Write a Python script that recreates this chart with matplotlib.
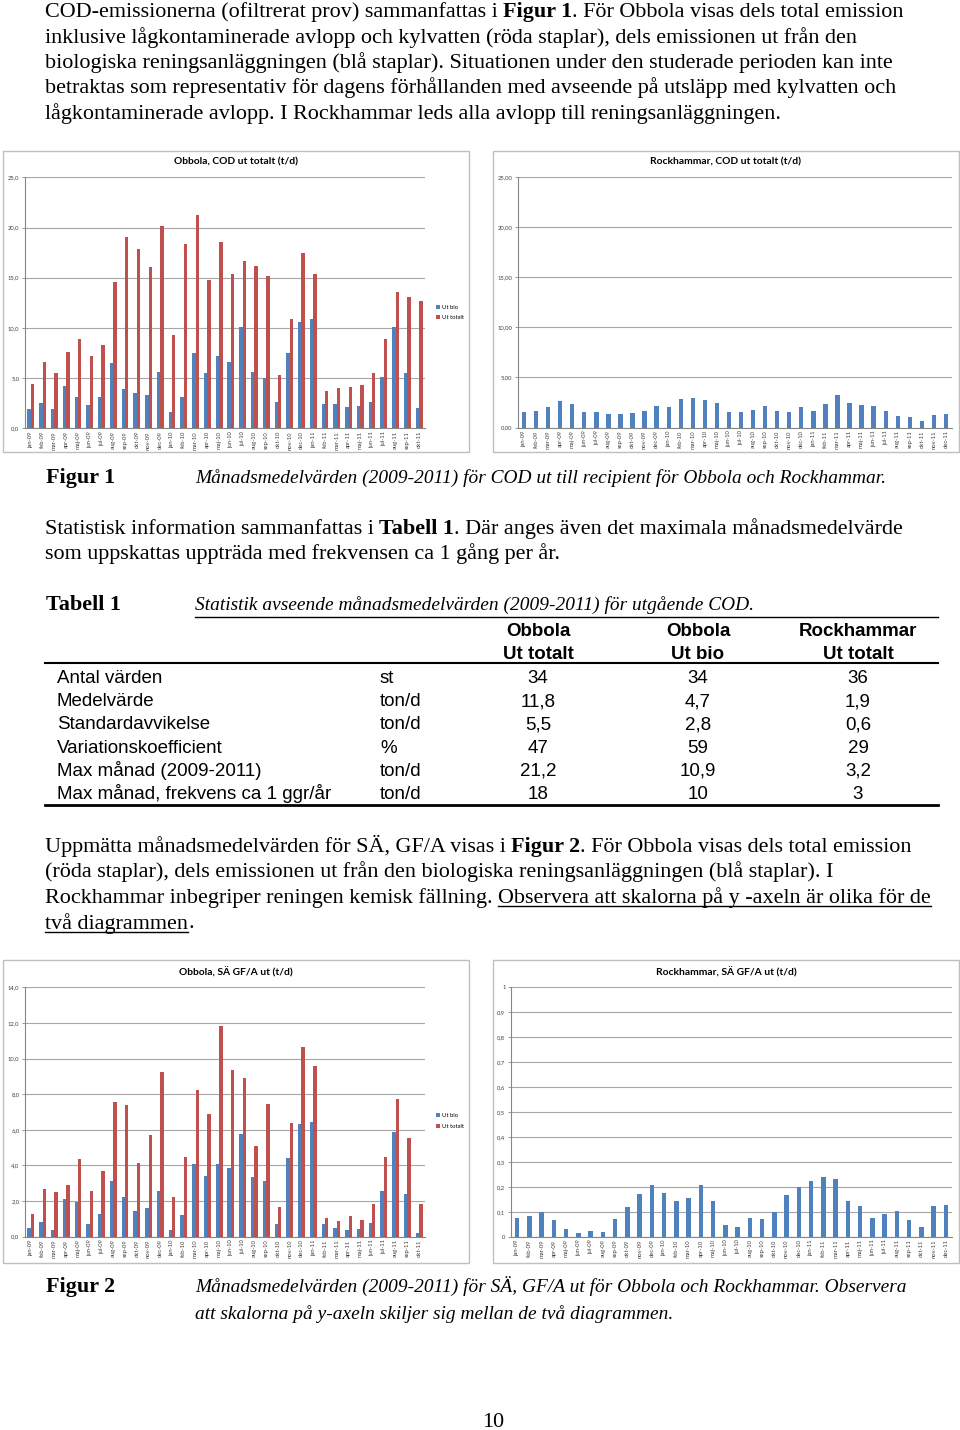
import matplotlib
matplotlib.use('Agg')
import matplotlib.pyplot as plt
from matplotlib.lines import Line2D
from matplotlib.patches import Rectangle, Patch
from matplotlib import font_manager

# ---------------- DATA ----------------
months_obbola = ['jan-09','feb-09','mar-09','apr-09','maj-09','jun-09','jul-09','aug-09','sep-09','okt-09','nov-09','dec-09',
                 'jan-10','feb-10','mar-10','apr-10','maj-10','jun-10','jul-10','aug-10','sep-10','okt-10','nov-10','dec-10',
                 'jan-11','feb-11','mar-11','apr-11','maj-11','jun-11','jul-11','aug-11','sep-11','okt-11']
months_rock = months_obbola + ['nov-11', 'dec-11']

obbola_cod_bio = [1.9, 2.5, 1.9, 4.25, 3.15, 2.3, 3.15, 6.5, 3.9, 3.5, 3.3, 5.6,
                  1.6, 3.1, 7.5, 5.5, 7.2, 6.6, 10.1, 5.6, 5.0, 2.6, 7.5, 10.6,
                  10.9, 2.4, 2.4, 2.1, 2.2, 2.6, 5.1, 10.1, 5.5, 2.0]
obbola_cod_tot = [4.4, 6.6, 5.5, 7.6, 8.9, 7.2, 8.3, 14.6, 19.1, 17.9, 16.1, 20.1,
                  9.3, 18.4, 21.2, 14.8, 18.6, 15.4, 16.7, 16.2, 15.2, 5.35, 10.9, 17.5,
                  15.4, 3.7, 4.0, 4.1, 4.3, 5.5, 8.9, 13.6, 13.1, 12.7]
rock_cod = [1.55, 1.6, 2.05, 2.65, 2.35, 1.5, 1.55, 1.35, 1.35, 1.45, 1.65, 2.15,
            2.0, 2.85, 2.9, 2.7, 2.4, 1.55, 1.55, 1.7, 2.15, 1.65, 1.5, 2.0,
            1.6, 2.35, 3.2, 2.4, 2.25, 2.15, 1.65, 1.15, 1.0, 0.6, 1.25, 1.35]
obbola_sa_bio = [0.49, 0.8, 0.36, 2.1, 1.92, 0.74, 1.3, 3.1, 2.25, 1.43, 1.62, 2.58,
                 0.4, 1.2, 4.1, 3.4, 4.1, 3.87, 5.78, 3.35, 3.1, 0.71, 4.4, 6.34,
                 6.44, 0.69, 0.5, 0.36, 0.41, 0.79, 2.58, 5.86, 2.4, 0.2]
obbola_sa_tot = [1.28, 2.7, 2.5, 2.9, 4.36, 2.57, 3.7, 7.54, 7.39, 4.15, 5.7, 9.26,
                 2.25, 4.5, 8.23, 6.9, 11.8, 9.36, 8.9, 5.07, 7.45, 1.65, 6.36, 10.67,
                 9.58, 1.05, 0.9, 1.18, 0.94, 1.82, 4.47, 7.75, 5.52, 1.83]
rock_sa = [0.074, 0.082, 0.10, 0.065, 0.03, 0.015, 0.021, 0.02, 0.072, 0.119, 0.17, 0.206,
           0.176, 0.144, 0.155, 0.206, 0.142, 0.045, 0.039, 0.074, 0.07, 0.10, 0.167, 0.20,
           0.223, 0.239, 0.23, 0.143, 0.123, 0.074, 0.092, 0.104, 0.065, 0.037, 0.124, 0.127]

series_names = ['Ut bio', 'Ut totalt']

table_header1 = ['Obbola', 'Obbola', 'Rockhammar']
table_header2 = ['Ut totalt', 'Ut bio', 'Ut totalt']
table_rows = ['Antal värden', 'Medelvärde', 'Standardavvikelse', 'Variationskoefficient',
              'Max månad (2009-2011)', 'Max månad, frekvens ca 1 ggr/år']
table_units = ['st', 'ton/d', 'ton/d', '%', 'ton/d', 'ton/d']
table_obbola_tot = ['34', '11,8', '5,5', '47', '21,2', '18']
table_obbola_bio = ['34', '4,7', '2,8', '59', '10,9', '10']
table_rock_tot = ['36', '1,9', '0,6', '29', '3,2', '3']

# ---------------- SETUP ----------------
W, H = 960, 1430
fig = plt.figure(figsize=(9.6, 14.3), dpi=100)
fig.patch.set_facecolor('white')
renderer = fig.canvas.get_renderer()

avail = {f.name for f in font_manager.fontManager.ttflist}
SERIF = 'Liberation Serif' if 'Liberation Serif' in avail else 'DejaVu Serif'
SANS = 'Liberation Sans' if 'Liberation Sans' in avail else 'DejaVu Sans'
NARROW = 'Liberation Sans Narrow' if 'Liberation Sans Narrow' in avail else SANS
CHART = 'Lato' if 'Lato' in avail else SANS

BLUE = '#4F81BD'
RED = '#C0504D'


def fx(x):
    return x / W


def fy(y):
    return 1 - y / H


def text_width(txt, size, family, **kw):
    t = fig.text(0, 0, txt, fontsize=size, family=family, **kw)
    w = t.get_window_extent(renderer).width
    t.remove()
    return w


def space_width(size, family, **kw):
    return text_width('a a', size, family, **kw) - text_width('aa', size, family, **kw)


def rich(x, y, segs, size, family=SERIF):
    cur = x
    for txt, kw in segs:
        kw = dict(kw)
        ul = kw.pop('underline', False)
        core = txt.strip(' ')
        lead = len(txt) - len(txt.lstrip(' '))
        trail = len(txt) - len(txt.rstrip(' '))
        sw = space_width(size, family, **kw)
        cur += lead * sw
        if core:
            t = fig.text(fx(cur), fy(y), core, fontsize=size, family=family,
                         va='baseline', ha='left', color='black', **kw)
            w = t.get_window_extent(renderer).width
            if ul:
                fig.add_artist(Line2D([fx(cur), fx(cur + w)], [fy(y + 3)] * 2,
                                      transform=fig.transFigure, color='black', lw=1))
            cur += w
        cur += trail * sw
    return cur


# fit body size
test = 'COD-emissionerna (ofiltrerat prov) sammanfattas i Figur 1. För Obbola visas dels total emission'
w0 = text_width(test, 10, SERIF)
BODY = 10 * 858 / w0

N = {}
B = {'weight': 'bold'}
I = {'style': 'italic'}
U = {'underline': True}

cap1 = 'Månadsmedelvärden (2009-2011) för COD ut till recipient för Obbola och Rockhammar.'
ITAL = 10 * 689 / text_width(cap1, 10, SERIF, style='italic')

# Paragraph 1
p1 = [
    [('COD-emissionerna (ofiltrerat prov) sammanfattas i ', N), ('Figur 1', B), ('. För Obbola visas dels total emission', N)],
    [('inklusive lågkontaminerade avlopp och kylvatten (röda staplar), dels emissionen ut från den', N)],
    [('biologiska reningsanläggningen (blå staplar). Situationen under den studerade perioden kan inte', N)],
    [('betraktas som representativ för dagens förhållanden med avseende på utsläpp med kylvatten och', N)],
    [('lågkontaminerade avlopp. I Rockhammar leds alla avlopp till reningsanläggningen.', N)],
]
for i, segs in enumerate(p1):
    rich(45, 17 + 25.5 * i, segs, BODY)

# Figure 1 caption
rich(46, 483, [('Figur 1', B)], BODY)
rich(195, 483, [(cap1, I)], ITAL)

# Paragraph 2
p2 = [
    [('Statistisk information sammanfattas i ', N), ('Tabell 1', B), ('. Där anges även det maximala månadsmedelvärde', N)],
    [('som uppskattas uppträda med frekvensen ca 1 gång per år.', N)],
]
for i, segs in enumerate(p2):
    rich(45, 534 + 25.5 * i, segs, BODY)

rich(46, 610, [('Tabell 1', B)], BODY)
rich(195, 610, [('Statistik avseende månadsmedelvärden (2009-2011) för utgående COD.', I)], ITAL)

# Table
tw = text_width('Max månad, frekvens ca 1 ggr/år', 10, NARROW)
TS = 10 * 276 / tw
fig.add_artist(Line2D([fx(195), fx(938)], [fy(617)] * 2, transform=fig.transFigure, color='black', lw=1.0))
fig.add_artist(Line2D([fx(45), fx(938)], [fy(663)] * 2, transform=fig.transFigure, color='black', lw=1.5))
fig.add_artist(Line2D([fx(45), fx(938)], [fy(805)] * 2, transform=fig.transFigure, color='black', lw=2.0))
cols = [538, 698, 858]
for c, h1, h2 in zip(cols, table_header1, table_header2):
    fig.text(fx(c), fy(636), h1, fontsize=TS, family=NARROW, weight='bold', ha='center', va='baseline')
    fig.text(fx(c), fy(659), h2, fontsize=TS, family=NARROW, weight='bold', ha='center', va='baseline')
for i, (lab, unit, a, b, c) in enumerate(zip(table_rows, table_units, table_obbola_tot, table_obbola_bio, table_rock_tot)):
    yb = 683 + 23.2 * i
    fig.text(fx(57), fy(yb), lab, fontsize=TS, family=NARROW, ha='left', va='baseline')
    fig.text(fx(380), fy(yb), unit, fontsize=TS, family=NARROW, ha='left', va='baseline')
    for cc, v in zip(cols, (a, b, c)):
        fig.text(fx(cc), fy(yb), v, fontsize=TS, family=NARROW, ha='center', va='baseline')

# Paragraph 3
p3 = [
    [('Uppmätta månadsmedelvärden för SÄ, GF/A visas i ', N), ('Figur 2', B), ('. För Obbola visas dels total emission', N)],
    [('(röda staplar), dels emissionen ut från den biologiska reningsanläggningen (blå staplar). I', N)],
    [('Rockhammar inbegriper reningen kemisk fällning. ', N), ('Observera att skalorna på y -axeln är olika för de', U)],
    [('två diagrammen', U), ('.', N)],
]
for i, segs in enumerate(p3):
    rich(45, 852 + 25.5 * i, segs, BODY)

# Figure 2 caption
rich(46, 1292, [('Figur 2', B)], BODY)
rich(195, 1292, [('Månadsmedelvärden (2009-2011) för SÄ, GF/A ut för Obbola och Rockhammar. Observera', I)], ITAL)
rich(195, 1319, [('att skalorna på y-axeln skiljer sig mellan de två diagrammen.', I)], ITAL)

fig.text(fx(493), fy(1427), '10', fontsize=BODY, family=SERIF, ha='center', va='baseline')


# ---------------- CHARTS ----------------
def chart(box, plot, title, title_y, cats, series, colors, ylim, yticks, ylabels, width, legend_pos=None):
    bx0, by0, bx1, by1 = box
    fig.add_artist(Rectangle((fx(bx0), fy(by1)), (bx1 - bx0) / W, (by1 - by0) / H,
                             transform=fig.transFigure, facecolor='none', edgecolor='#BFBFBF', lw=1.0))
    px0, py0, px1, py1 = plot
    ax = fig.add_axes([fx(px0), fy(py1), (px1 - px0) / W, (py1 - py0) / H])
    n = len(cats)
    xs = list(range(n))
    k = len(series)
    for j, (vals, col) in enumerate(zip(series, colors)):
        off = (j - (k - 1) / 2) * width
        ax.bar([x + off for x in xs], vals, width=width, color=col, edgecolor='none', zorder=3)
    ax.set_xlim(-0.5, n - 0.5)
    ax.set_ylim(*ylim)
    ax.set_yticks(yticks)
    ax.set_yticklabels(ylabels, fontsize=4.2, family=CHART, color='#404040')
    ax.set_xticks(xs)
    ax.set_xticklabels(cats, rotation=90, fontsize=4.2, family=CHART, color='#404040')
    ax.tick_params(axis='x', length=0, pad=2)
    ax.tick_params(axis='y', length=2, width=0.6, color='#868686', pad=2)
    for s in ('top', 'right'):
        ax.spines[s].set_visible(False)
    for s in ('left', 'bottom'):
        ax.spines[s].set_color('#868686')
        ax.spines[s].set_linewidth(0.8)
    ax.yaxis.grid(True, color='#A6A6A6', lw=0.8, zorder=0)
    ax.set_axisbelow(True)
    ax.set_facecolor('none')
    fig.text(fx((bx0 + bx1) / 2), fy(title_y), title, fontsize=7.4, family=CHART, weight='bold',
             ha='center', va='center')
    if legend_pos is not None:
        leg_handles = [Patch(facecolor=c, edgecolor='none') for c in colors]
        fig.legend(leg_handles, series_names, loc='center left',
                   bbox_to_anchor=(fx(legend_pos[0]), fy(legend_pos[1])),
                   frameon=False, handlelength=0.7, handleheight=0.7, handletextpad=0.3,
                   labelspacing=0.9, borderpad=0, prop={'family': CHART, 'size': 4.2})
    return ax


chart((3, 151, 469, 452), (25, 177.3, 425, 428.3), 'Obbola, COD ut totalt (t/d)', 162,
      months_obbola, [obbola_cod_bio, obbola_cod_tot], [BLUE, RED], (0, 25),
      [0, 5, 10, 15, 20, 25], ['0,0', '5,0', '10,0', '15,0', '20,0', '25,0'], 0.29,
      legend_pos=(433, 312.5))

chart((493, 151, 959, 452), (518, 177.3, 952, 427.5), 'Rockhammar, COD ut totalt (t/d)', 162,
      months_rock, [rock_cod], [BLUE], (0, 25),
      [0, 5, 10, 15, 20, 25], ['0,00', '5,00', '10,00', '15,00', '20,00', '25,00'], 0.36)

chart((3, 960, 469, 1263), (25, 987.3, 425, 1236.7), 'Obbola, SÄ GF/A ut (t/d)', 972,
      months_obbola, [obbola_sa_bio, obbola_sa_tot], [BLUE, RED], (0, 14),
      [0, 2, 4, 6, 8, 10, 12, 14], ['0,0', '2,0', '4,0', '6,0', '8,0', '10,0', '12,0', '14,0'], 0.29,
      legend_pos=(433, 1121))

chart((493, 960, 959, 1263), (511, 987.3, 952, 1236.7), 'Rockhammar, SÄ GF/A ut (t/d)', 972,
      months_rock, [rock_sa], [BLUE], (0, 1),
      [i / 10 for i in range(11)], ['0', '0,1', '0,2', '0,3', '0,4', '0,5', '0,6', '0,7', '0,8', '0,9', '1'], 0.36)

fig.savefig('out.png', dpi=100, facecolor='white')
